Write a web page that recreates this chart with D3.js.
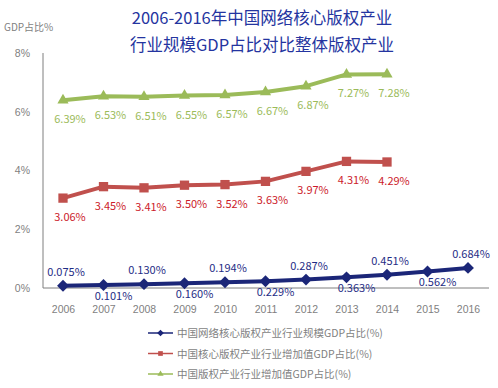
<!DOCTYPE html>
<html><head><meta charset="utf-8">
<script src="https://cdn.jsdelivr.net/npm/d3@7"></script>
<style>
html,body{margin:0;padding:0;background:#fff;}
svg{display:block;font-family:"Noto Sans CJK SC","Noto Sans",sans-serif;}
</style></head>
<body><svg id="c" width="498" height="388"></svg>
<script>
const titleLines = ["2006-2016年中国网络核心版权产业", "行业规模GDP占比对比整体版权产业"];
const yAxisTitle = "GDP占比%";
const years = ["2006","2007","2008","2009","2010","2011","2012","2013","2014","2015","2016"];
const yTicks = [0, 2, 4, 6, 8];
const seriesNames = ["中国网络核心版权产业行业规模GDP占比(%)", "中国核心版权产业行业增加值GDP占比(%)", "中国版权产业行业增加值GDP占比(%)"];
const onlineCore = [0.075, 0.101, 0.130, 0.160, 0.194, 0.229, 0.287, 0.363, 0.451, 0.562, 0.684];
const coreValue = [3.06, 3.45, 3.41, 3.50, 3.52, 3.63, 3.97, 4.31, 4.29];
const totalValue = [6.39, 6.53, 6.51, 6.55, 6.57, 6.67, 6.87, 7.27, 7.28];

const svg = d3.select("#c");
const grey = "#7f7f7f";
const x = d3.scalePoint().domain(years).range([63, 468]);
const y = d3.scaleLinear().domain([0, 8]).range([288, 53]);

// title
svg.append("g").selectAll("text").data(titleLines).join("text")
  .attr("x", 262).attr("y", (d,i) => 24 + i*27)
  .attr("text-anchor", "middle").attr("font-size", 16.5).attr("fill", "#2434a0")
  .text(d => d);

svg.append("text").attr("x", 4).attr("y", 31).attr("font-size", 10).attr("fill", grey).text(yAxisTitle);

// axes
const yAxis = d3.axisLeft(y).tickValues(yTicks).tickSize(0).tickPadding(13).tickFormat(d => d + "%");
const yg = svg.append("g").attr("transform", "translate(43,0)").call(yAxis);
yg.select(".domain").attr("stroke", grey).attr("d", `M0,${y(8)}V${y(0)}`);
yg.selectAll("text").attr("font-size", 10.5).attr("fill", grey).attr("font-family", "inherit");

const xAxis = d3.axisBottom(x).tickSize(0).tickPadding(18);
const xg = svg.append("g").attr("transform", `translate(0,${y(0)})`).call(xAxis);
xg.select(".domain").attr("stroke", grey).attr("d", "M43,0H489");
xg.selectAll("text").attr("font-size", 10.5).attr("fill", grey).attr("font-family", "inherit");

const series = [
  {name: seriesNames[0], values: onlineCore, color: "#1b2678", label: "#1f2d85", marker: d3.symbolDiamond2, msize: 90, fmt: d3.format(".3f")},
  {name: seriesNames[1], values: coreValue, color: "#c0504d", label: "#cc1a2a", marker: d3.symbolSquare2, msize: 110, fmt: d3.format(".2f")},
  {name: seriesNames[2], values: totalValue, color: "#9bbb59", label: "#9bbb59", marker: d3.symbolTriangle2, msize: 90, fmt: d3.format(".2f")}
];

const line = d3.line().x(d => x(d.year)).y(d => y(d.v));

series.slice().reverse().forEach((s) => {
  const pts = s.values.map((v, i) => ({year: years[i], v, i}));
  const g = svg.append("g");
  g.append("path").datum(pts).attr("d", line).attr("fill", "none")
    .attr("stroke", s.color).attr("stroke-width", 4).attr("stroke-linejoin", "round");
  g.selectAll("path.m").data(pts).join("path").attr("class", "m")
    .attr("transform", d => `translate(${x(d.year)},${y(d.v)})`)
    .attr("d", d3.symbol(s.marker, s.msize)).attr("fill", s.color);
  const isBlue = s === series[0];
  g.selectAll("text").data(pts).join("text")
    .attr("x", d => x(d.year) + (isBlue ? (d.i % 2 ? 10 : 3) : 7))
    .attr("y", d => y(d.v) + (isBlue ? (d.i % 2 ? 15 : -10) : 23))
    .attr("text-anchor", "middle").attr("font-size", 11).attr("fill", s.label)
    .text(d => s.fmt(d.v) + "%");
});

// legend
const lg = svg.append("g").selectAll("g").data(series).join("g")
  .attr("transform", (d,i) => `translate(148,${333 + i*20.5})`);
lg.append("line").attr("x1", 0).attr("x2", 25).attr("stroke", d => d.color).attr("stroke-width", 1.5);
lg.append("path").attr("transform", "translate(12.5,0)")
  .attr("d", d => d3.symbol(d.marker, 28)()).attr("fill", d => d.color);
lg.append("text").attr("x", 29).attr("y", 4).attr("font-size", 10.5).attr("fill", grey).text(d => d.name);
</script></body></html>
